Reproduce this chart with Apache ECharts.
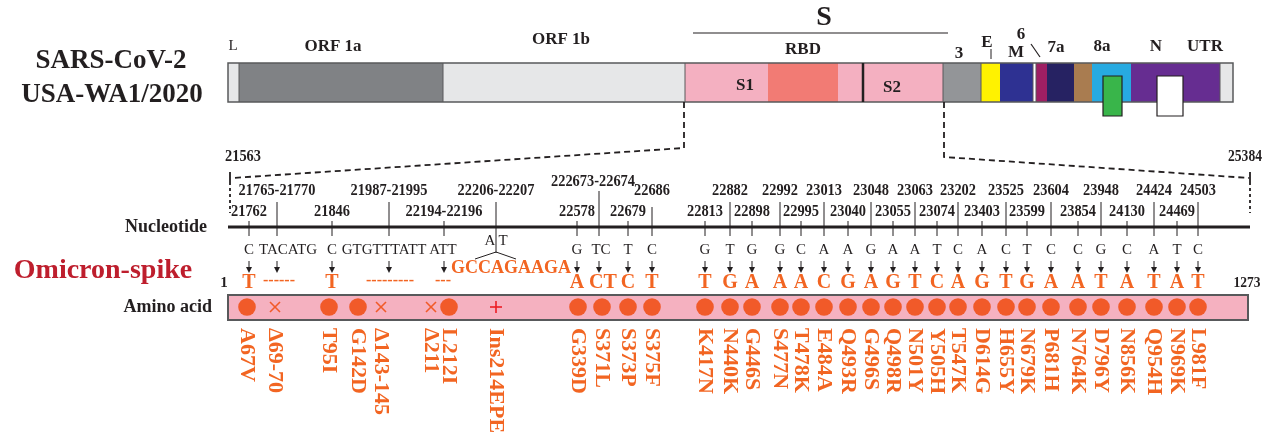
<!DOCTYPE html>
<html><head><meta charset="utf-8">
<script src="https://cdn.jsdelivr.net/npm/echarts@6/dist/echarts.min.js"></script>
<style>html,body{margin:0;padding:0;background:#fff}#c{width:1265px;height:440px}</style>
</head><body><div id="c"></div>
<script>
// ================= DATA =================
// Genome map segments (diagram columns along the genome bar)
const segNames  = ['L','ORF 1a','ORF 1b','S1','RBD','S1b','S2','3','E','M','6','7a','7b','8','8a','N','UTR'];
const segStart  = [228,239,443,685,768,838,863,943,981,1000,1033,1036,1047,1074,1092,1131,1220];
const segEnd    = [239,443,685,768,838,863,943,981,1000,1033,1036,1047,1074,1092,1131,1220,1233];
const segColor  = ['#e6e7e8','#808285','#e6e7e8','#f4b0c1','#f27b74','#f4b0c1','#f4b0c1','#939598','#fff200','#2e3192','#ffffff','#9e1f63','#262262','#a97c50','#27aae1','#662d91','#e6e7e8'];
const segDividers = [239,443,685,943,981,1033,1036,1220];

// Nucleotide mutation labels (spike, 21563–25384)
const ntLabels = ['21762','21765-21770','21846','21987-21995','22194-22196','22206-22207','22578','222673-22674','22679','22686',
  '22813','22882','22898','22992','22995','23013','23040','23048','23055','23063','23074','23202','23403','23525','23599','23604','23854','23948','24130','24424','24469','24503'];
const ntLevel  = ['low','high','low','high','low','high','low','top','low','mid',
  'low','high','low','high','low','high','low','high','low','high','low','high','low','high','low','high','low','high','low','high','low','high'];
const ntColumn = [249,277,332,389,444,496,577,599,628,652,
  705,730,752,780,801,824,848,871,893,915,937,958,982,1006,1027,1051,1078,1101,1127,1154,1177,1198];
const refBases = ['C','TACATG','C','GTGTTTATT','ATT','','G','TC','T','C',
  'G','T','G','G','C','A','A','G','A','A','T','C','A','C','T','C','C','G','C','A','T','C'];
const altBases = ['T','------','T','---------','---','GCCAGAAGA','A','CT','C','T',
  'T','G','A','A','A','C','G','A','G','T','C','A','G','T','G','A','A','T','A','T','A','T'];
const insertedBases = ['A','T'];

// Amino-acid changes (spike, residues 1–1273)
const aaLabels = ['A67V','Δ69-70','T95I','G142D','Δ143-145','Δ211','L212I','Ins214EPE','G339D','S371L','S373P','S375F',
  'K417N','N440K','G446S','S477N','T478K','E484A','Q493R','G496S','Q498R','N501Y','Y505H','T547K','D614G','H655Y','N679K','P681H','N764K','D796Y','N856K','Q954H','N969K','L981F'];
const aaType   = ['sub','del','sub','sub','del','del','sub','ins','sub','sub','sub','sub',
  'sub','sub','sub','sub','sub','sub','sub','sub','sub','sub','sub','sub','sub','sub','sub','sub','sub','sub','sub','sub','sub','sub'];
const aaColumn = [247,275,329,358,381,431,449,496,578,602,628,652,
  705,730,752,780,801,824,848,871,893,915,937,958,982,1006,1027,1051,1078,1101,1127,1154,1177,1198];

const spikeStartNt = '21563', spikeEndNt = '25384';
const aaFirst = '1', aaLast = '1273';

// ================= LAYOUT / STYLE =================
const SERIF = '"Liberation Serif","DejaVu Serif","Times New Roman",serif';
const F = (s,b)=> (b?'bold ':'') + s + 'px ' + SERIF;
const ORANGE = '#f26522', DOT = '#f15a29', DARK = '#231f20', EDGE = '#58595b';
const refX = {1:288, 3:384, 4:443, 7:601};
const altX = {1:279, 3:390, 4:443, 5:511, 7:603};
const labelY = {low:212, high:191, top:182, mid:191};
const tickTop = {low:221, high:202, top:191, mid:207};

const chart = echarts.init(document.getElementById('c'));
function series(n, fn, z){
  return {type:'custom', coordinateSystem:'cartesian2d', silent:true, animation:false, clip:false, z:z||2,
    data:Array.from({length:n},()=>[0,0]),
    renderItem:(params,api)=>fn(params.dataIndex, (x,y)=>api.coord([x,y]))};
}
function txt(c, s, font, fill, opt){
  opt = opt||{};
  return {type:'text', x:c[0], y:c[1], rotation:opt.rot||0, scaleX:opt.sx||1,
    style:{text:s, font:font, fill:fill, align:opt.align||'center', verticalAlign:opt.va||'middle'}};
}
function line(a,b,stroke,w,dash){
  return {type:'line', shape:{x1:a[0],y1:a[1],x2:b[0],y2:b[1]}, style:{stroke:stroke, lineWidth:w, lineDash:dash||null}};
}
function poly(pts,stroke,w,dash){
  return {type:'polyline', shape:{points:pts}, style:{stroke:stroke, lineWidth:w, fill:null, lineDash:dash||null}};
}

const S = [];
// Genome bar segments
S.push(series(segNames.length, (i,c)=>{
  const a=c(segStart[i],63), b=c(segEnd[i],102);
  return {type:'rect', shape:{x:a[0],y:a[1],width:b[0]-a[0],height:b[1]-a[1]}, style:{fill:segColor[i]}};
}));
// Genome bar frame, dividers, insets
S.push(series(1, (i,c)=>{
  const a=c(228,63), b=c(1233,102);
  const ch=[{type:'rect', shape:{x:a[0],y:a[1],width:b[0]-a[0],height:b[1]-a[1]}, style:{fill:null, stroke:EDGE, lineWidth:1.5}}];
  segDividers.forEach(x=>ch.push(line(c(x,63),c(x,102),EDGE,1)));
  ch.push(line(c(863,63),c(863,102),DARK,2.5));
  const g1=c(1103,76), g2=c(1122,116);
  ch.push({type:'rect', shape:{x:g1[0],y:g1[1],width:g2[0]-g1[0],height:g2[1]-g1[1]}, style:{fill:'#39b54a', stroke:DARK, lineWidth:1.2}});
  const w1=c(1157,76), w2=c(1183,116);
  ch.push({type:'rect', shape:{x:w1[0],y:w1[1],width:w2[0]-w1[0],height:w2[1]-w1[1]}, style:{fill:'#ffffff', stroke:DARK, lineWidth:1.2}});
  ch.push(line(c(693,33),c(948,33),DARK,1.2));
  ch.push(line(c(991,49),c(991,59),DARK,1));
  ch.push(line(c(1031,44),c(1040,57),DARK,1.2));
  return {type:'group', children:ch};
}));
// Genome labels
const topLabels = [['L',233,46,15,false],['ORF 1a',333,47,17,true],['ORF 1b',561,40,17,true],['S',824,18,28,true],['RBD',803,50,17,true],
  ['3',959,54,17,true],['E',987,43,17,true],['6',1021,35,17,true],['M',1016,53,17,true],['7a',1056,48,17,true],['8a',1102,47,17,true],
  ['N',1156,47,17,true],['UTR',1205,47,17,true],['S1',745,86,17,true],['S2',892,88,17,true]];
S.push(series(topLabels.length,(i,c)=>{
  const t=topLabels[i];
  return txt(c(t[1],t[2]), t[0], F(t[3],t[4]), DARK);
},5));
// Titles
S.push(series(1,(i,c)=>({type:'group', children:[
  txt(c(111,61),'SARS-CoV-2',F(27,true),DARK),
  txt(c(112,95),'USA-WA1/2020',F(27,true),DARK),
  txt(c(103,271),'Omicron-spike',F(28,true),'#be1e2d'),
  txt(c(207,227),'Nucleotide',F(18,true),DARK,{align:'right'}),
  txt(c(212,307),'Amino acid',F(18,true),DARK,{align:'right'}),
  txt(c(243,157),spikeStartNt,F(16,true),DARK,{sx:0.9}),
  txt(c(1245,157),spikeEndNt,F(16,true),DARK,{sx:0.85}),
  txt(c(224,283),aaFirst,F(15,true),DARK),
  txt(c(1247,283),aaLast,F(15,true),DARK,{sx:0.9})
]}),5));
// Zoom dashed connectors
S.push(series(1,(i,c)=>{
  const d=[6,4];
  return {type:'group', children:[
    poly([c(684,102),c(684,148),c(232,178)],DARK,1.8,d),
    poly([c(944,102),c(944,157),c(1249,178)],DARK,1.8,d),
    line(c(230,172),c(230,185),DARK,1.8),
    line(c(230,188),c(230,213),DARK,1.8,[3,3]),
    line(c(1250,172),c(1250,185),DARK,1.8),
    line(c(1250,188),c(1250,213),DARK,1.8,[3,3])
  ]};
}));
// Nucleotide axis line
S.push(series(1,(i,c)=>line(c(228,227),c(1250,227),DARK,3)));
// Ticks + position labels
S.push(series(ntLabels.length,(i,c)=>{
  const x=ntColumn[i], lv=ntLevel[i];
  const bottom = (i===5)?253:236;
  return {type:'group', children:[
    line(c(x,tickTop[lv]),c(x,bottom),DARK,1),
    txt(c(i===7?593:x,labelY[lv]),ntLabels[i],F(16,true),DARK,{sx:0.9})
  ]};
}));
// Reference bases, arrows, alt bases
S.push(series(ntLabels.length,(i,c)=>{
  const x=ntColumn[i];
  const ch=[];
  if(refBases[i]) ch.push(txt(c(refX[i]!==undefined?refX[i]:x,250),refBases[i],F(15,false),DARK));
  if(i===5){
    ch.push(txt(c(490,241),insertedBases[0],F(15,false),DARK));
    ch.push(txt(c(503,241),insertedBases[1],F(15,false),DARK));
    ch.push(poly([c(475,259),c(496,252),c(516,259)],DARK,1));
    ch.push(txt(c(altX[i],268),altBases[i],F(18,true),ORANGE));
  } else {
    const ax=x;
    ch.push(line(c(ax,261),c(ax,268),DARK,1));
    const p1=c(ax-3,267),p2=c(ax+3,267),p3=c(ax,273);
    ch.push({type:'polygon', shape:{points:[p1,p2,p3]}, style:{fill:DARK}});
    const isDash = altBases[i].charAt(0)==='-';
    ch.push(txt(c(altX[i]!==undefined?altX[i]:x, isDash?281:283),altBases[i],F(isDash?16:20,true),ORANGE));
  }
  return {type:'group', children:ch};
}));
// Amino-acid bar
S.push(series(1,(i,c)=>{
  const a=c(228,295), b=c(1248,320);
  return {type:'rect', shape:{x:a[0],y:a[1],width:b[0]-a[0],height:b[1]-a[1]}, style:{fill:'#f5b1c0', stroke:EDGE, lineWidth:2}};
}),1);
// Amino-acid markers + labels
S.push(series(aaLabels.length,(i,c)=>{
  const x=aaColumn[i], ch=[];
  const p=c(x,307);
  if(aaType[i]==='sub') ch.push({type:'circle', shape:{cx:p[0],cy:p[1],r:8.8}, style:{fill:DOT}});
  else if(aaType[i]==='del'){
    ch.push(line(c(x-5,302),c(x+5,312),DOT,1.6));
    ch.push(line(c(x-5,312),c(x+5,302),DOT,1.6));
  } else {
    ch.push(line(c(x-6,307),c(x+6,307),'#ed1c24',1.6));
    ch.push(line(c(x,301),c(x,313),'#ed1c24',1.6));
  }
  ch.push(txt(c(x,328),aaLabels[i],F(22,true),ORANGE,{rot:-Math.PI/2,align:'left'}));
  return {type:'group', children:ch};
}),3);

chart.setOption({
  animation:false,
  grid:{left:0,right:0,top:0,bottom:0},
  xAxis:{type:'value',min:0,max:1265,show:false},
  yAxis:{type:'value',min:0,max:440,inverse:true,show:false},
  series:S
});
</script></body></html>
